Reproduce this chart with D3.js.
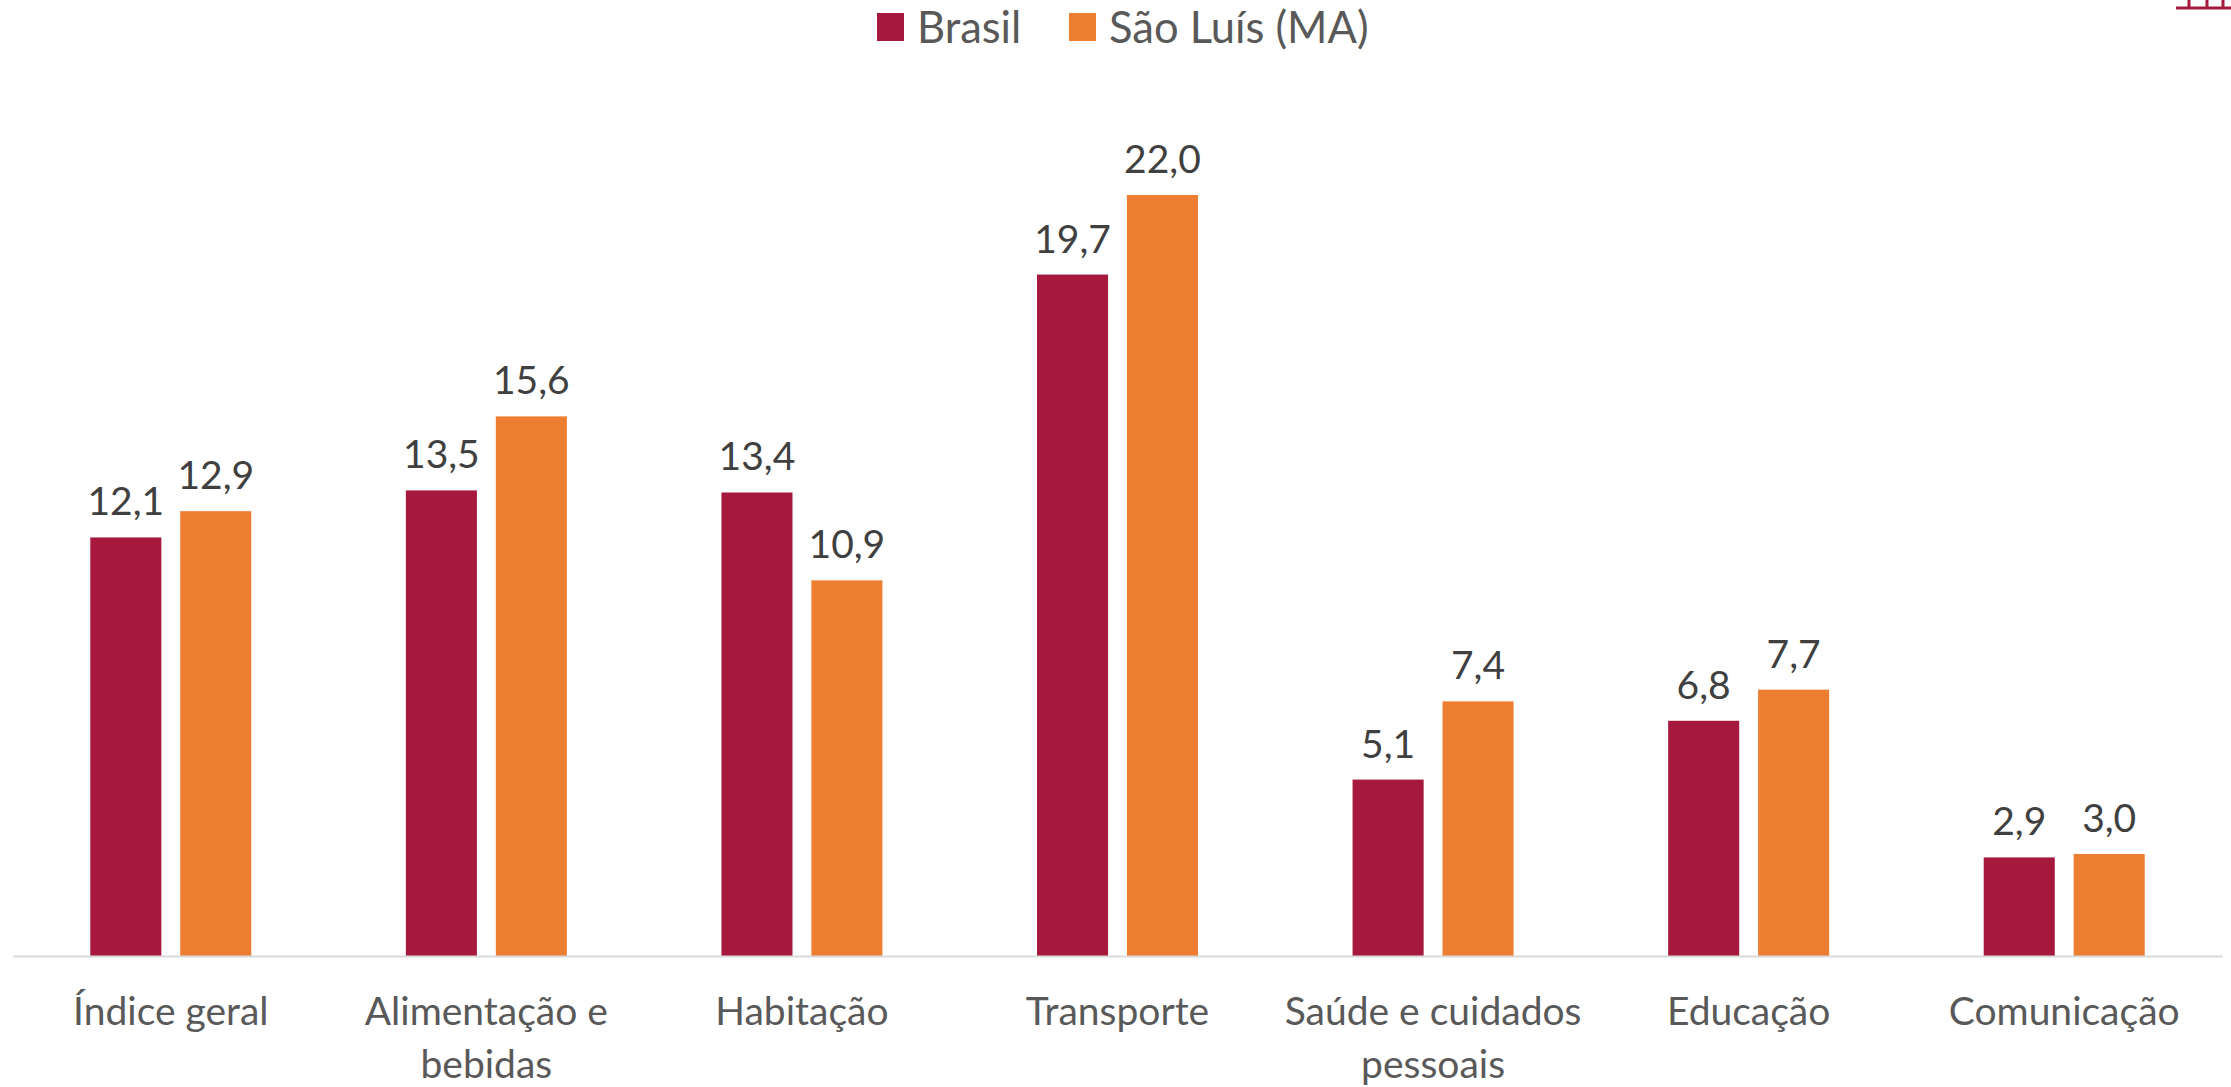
<!DOCTYPE html>
<html>
<head>
<meta charset="utf-8">
<script src="https://cdn.jsdelivr.net/npm/d3@7"></script>
<style>
  html, body { margin: 0; padding: 0; background: #fff; }
  svg { display: block; }
  text { font-family: Lato, "Open Sans", sans-serif; }
</style>
</head>
<body>
<div class="canvas"></div>
<script>
// dados (alturas, arredondam para os rótulos impressos)
const categories = ["Índice geral", "Alimentação e bebidas", "Habitação", "Transporte", "Saúde e cuidados pessoais", "Educação", "Comunicação"];
const seriesNames = ["Brasil", "São Luís (MA)"];
const brasil = [12.1, 13.46, 13.4, 19.7, 5.1, 6.8, 2.85];
const saoLuis = [12.86, 15.6, 10.86, 22.0, 7.36, 7.7, 2.95];
const seriesColors = ["#a6193c", "#ed7d31"];

const width = 2231;
const height = 1087;
const marginLeft = 13;
const marginRight = 9;
const baseline = 956;
const marginTop = 195;

const svg = d3.select(".canvas").append("svg")
  .attr("width", width)
  .attr("height", height);

const x = d3.scaleBand()
  .domain(categories)
  .range([marginLeft, width - marginRight]);

const series = d3.scaleBand()
  .domain(seriesNames)
  .range([0, 161])
  .paddingInner(0.21);

const y = d3.scaleLinear()
  .domain([0, 22])
  .range([baseline, marginTop]);

const fmt = v => v.toFixed(1).replace(".", ",");

// barras
[brasil, saoLuis].forEach((values, s) => {
  const g = svg.append("g");
  const offset = d => x(d) + x.bandwidth() / 2 - 80.5 + series(seriesNames[s]);
  g.selectAll("rect")
    .data(categories)
    .join("rect")
    .attr("x", d => offset(d))
    .attr("y", (d, i) => y(values[i]))
    .attr("width", series.bandwidth())
    .attr("height", (d, i) => baseline - y(values[i]))
    .attr("fill", seriesColors[s]);
  g.selectAll("text")
    .data(categories)
    .join("text")
    .attr("x", d => offset(d) + series.bandwidth() / 2)
    .attr("y", (d, i) => y(values[i]) - 22)
    .attr("text-anchor", "middle")
    .attr("font-size", 39)
    .attr("fill", "#404040")
    .text((d, i) => fmt(values[i]));
});

// eixo x
const gx = svg.append("g")
  .attr("transform", `translate(0, ${baseline})`)
  .call(d3.axisBottom(x).tickSize(0).tickPadding(0));
gx.select(".domain").attr("stroke", "#d9d9d9").attr("stroke-width", 2);
gx.selectAll("text").remove();

const wrapped = {
  "Alimentação e bebidas": ["Alimentação e", "bebidas"],
  "Saúde e cuidados pessoais": ["Saúde e cuidados", "pessoais"]
};
gx.selectAll(".tick").each(function (d) {
  const lines = wrapped[d] || [d];
  d3.select(this).selectAll("text.lbl")
    .data(lines)
    .join("text")
    .attr("class", "lbl")
    .attr("y", (l, i) => 69 + i * 53)
    .attr("text-anchor", "middle")
    .attr("font-size", 39)
    .attr("fill", "#595959")
    .text(l => l);
});

// legenda
const legendX = [877, 1069];
const legend = svg.selectAll(".legend")
  .data(seriesNames)
  .join("g")
  .attr("class", "legend")
  .attr("transform", (d, i) => `translate(${legendX[i]}, 0)`);
legend.append("rect")
  .attr("y", 13)
  .attr("width", 27)
  .attr("height", 28)
  .attr("fill", (d, i) => seriesColors[i]);
legend.append("text")
  .attr("x", 40)
  .attr("y", 43)
  .attr("font-size", 43.5)
  .attr("fill", "#595959")
  .text(d => d);

// pedaço do logo no canto
const logo = svg.append("g").attr("stroke", "#a6193c").attr("stroke-width", 3);
logo.append("line").attr("x1", 2176).attr("x2", 2231).attr("y1", 8).attr("y2", 8);
[2189, 2207, 2223].forEach(px => {
  logo.append("line").attr("x1", px).attr("x2", px).attr("y1", 0).attr("y2", 8);
});
</script>
</body>
</html>
